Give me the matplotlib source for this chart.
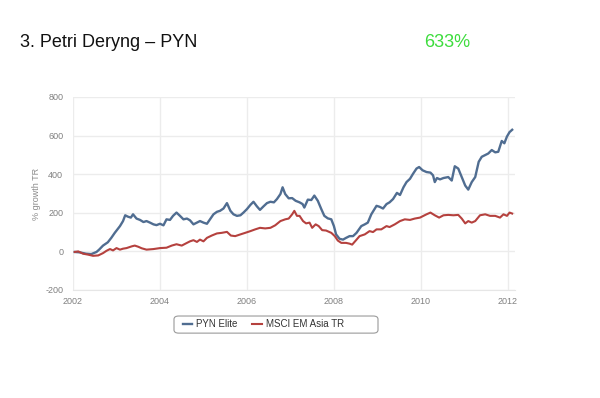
import matplotlib
matplotlib.use("Agg")
import matplotlib.pyplot as plt
from matplotlib.patches import FancyBboxPatch

# -----------------------------------------
# Data
# -----------------------------------------

pyn_years = [
    2002.04, 2002.15, 2002.30, 2002.42, 2002.54, 2002.60, 2002.69, 2002.80,
    2002.88, 2002.96, 2003.08, 2003.15, 2003.20, 2003.26, 2003.33, 2003.38,
    2003.46, 2003.54, 2003.62, 2003.69, 2003.77, 2003.85, 2003.92, 2004.00,
    2004.08, 2004.15, 2004.23, 2004.30, 2004.38, 2004.46, 2004.54, 2004.62,
    2004.69, 2004.77, 2004.85, 2004.92, 2005.00, 2005.08, 2005.15, 2005.23,
    2005.31, 2005.38, 2005.46, 2005.54, 2005.62, 2005.69, 2005.77, 2005.85,
    2005.92, 2006.00, 2006.08, 2006.15, 2006.23, 2006.30, 2006.38, 2006.46,
    2006.54, 2006.62, 2006.69, 2006.77, 2006.82, 2006.88, 2006.96, 2007.04,
    2007.12, 2007.21, 2007.28, 2007.32, 2007.40, 2007.48, 2007.55, 2007.63,
    2007.71, 2007.78, 2007.86, 2007.94, 2008.00, 2008.05, 2008.13, 2008.21,
    2008.28, 2008.36, 2008.44, 2008.52, 2008.63, 2008.71, 2008.78, 2008.86,
    2008.98, 2009.05, 2009.13, 2009.21, 2009.28, 2009.36, 2009.45, 2009.52,
    2009.60, 2009.67, 2009.75, 2009.82, 2009.90, 2009.96, 2010.04, 2010.13,
    2010.22, 2010.28, 2010.32, 2010.37, 2010.44, 2010.52, 2010.63, 2010.71,
    2010.78, 2010.86, 2010.94, 2011.02, 2011.09, 2011.17, 2011.25, 2011.33,
    2011.40, 2011.48, 2011.55, 2011.63, 2011.71, 2011.78, 2011.86, 2011.92,
    2011.98, 2012.04, 2012.10
]

pyn_vals = [
    -3, -5, -12, -14, -3, 9, 30, 47,
    70, 96, 131, 157, 187, 180, 175, 192,
    170, 163, 152, 157, 149, 140, 136, 143,
    135, 166, 163, 184, 201, 184, 166, 170,
    161, 140, 149, 157, 149, 143, 166, 192,
    205, 210, 222, 250, 210, 192, 184, 187,
    201, 219, 241, 257, 233, 215, 233, 250,
    257, 254, 271, 297, 332, 297, 275, 276,
    262, 254, 245, 227, 268, 266, 289, 262,
    219, 184, 171, 166, 131, 88, 65, 61,
    70, 79, 79, 96, 131, 140, 149, 192,
    236, 231, 222, 245, 254, 271, 303, 292,
    332, 359, 376, 402, 429, 437, 420, 411,
    408, 394, 359, 380, 373, 380, 385, 367,
    441, 429, 385, 341, 320, 359, 385, 464,
    490, 499, 507, 525, 513, 516, 572, 560,
    595, 618, 630
]

msci_years = [
    2002.04, 2002.12, 2002.23, 2002.35, 2002.46, 2002.58, 2002.69, 2002.77,
    2002.85, 2002.92, 2003.00, 2003.08, 2003.15, 2003.23, 2003.35, 2003.42,
    2003.50, 2003.58, 2003.69, 2003.85, 2004.00, 2004.15, 2004.27, 2004.38,
    2004.50, 2004.62, 2004.69, 2004.77, 2004.85, 2004.92, 2005.00, 2005.08,
    2005.19, 2005.31, 2005.42, 2005.54, 2005.63, 2005.73, 2005.85, 2005.96,
    2006.08, 2006.19, 2006.30, 2006.42, 2006.54, 2006.65, 2006.77, 2006.88,
    2006.96, 2007.04, 2007.09, 2007.15, 2007.21, 2007.29, 2007.36, 2007.44,
    2007.50, 2007.58, 2007.65, 2007.73, 2007.82, 2007.94, 2008.02, 2008.09,
    2008.17, 2008.28, 2008.36, 2008.42, 2008.51, 2008.59, 2008.71, 2008.82,
    2008.90, 2008.98, 2009.09, 2009.21, 2009.28, 2009.40, 2009.52, 2009.63,
    2009.75, 2009.86, 2009.98, 2010.13, 2010.22, 2010.32, 2010.42, 2010.52,
    2010.63, 2010.75, 2010.86, 2010.94, 2011.02, 2011.09, 2011.17, 2011.25,
    2011.36, 2011.48, 2011.59, 2011.71, 2011.82, 2011.90, 2011.98, 2012.04,
    2012.10
]

msci_vals = [
    -3, 0, -12, -17, -23, -21, -9, 3,
    12, 5, 17, 9, 14, 17, 26, 30,
    24, 16, 9, 12, 17, 19, 30, 37,
    30, 44, 52, 58, 49, 61, 52, 70,
    82, 93, 96, 101, 82, 79, 88, 96,
    105, 114, 122, 119, 122, 135, 157, 166,
    170, 192, 210, 184, 184, 157, 145, 149,
    122, 140, 131, 110, 108, 96, 79, 56,
    44, 44, 40, 35, 58, 79, 88, 105,
    100, 114, 114, 131, 126, 140, 157, 166,
    163, 170, 175, 192, 201, 187, 175, 187,
    189, 187, 189, 170, 145, 157, 149, 157,
    187, 192, 184, 184, 175, 192, 184, 201,
    196
]

x_ticks = [2002, 2004, 2006, 2008, 2010, 2012]
y_ticks = [-200, 0, 200, 400, 600, 800]
y_labels = ["-200", "0", "200", "400", "600", "800"]

# -----------------------------------------
# Figure
# -----------------------------------------

plt.rcParams["font.family"] = ["Liberation Sans", "DejaVu Sans"]

fig = plt.figure(figsize=(6, 3.98), dpi=100)

fig.text(0.033, 0.883, "3. Petri Deryng \u2013 PYN", fontsize=13,
         color="#111111", va="baseline")

fig.text(0.707, 0.883, "633%", fontsize=13, color="#3ddc3d",
         va="baseline")

ax = fig.add_axes([0.1217, 0.2714, 0.737, 0.485])

ax.plot(pyn_years, pyn_vals, color="#506d91", linewidth=1.7,
        label="PYN Elite")

ax.plot(msci_years, msci_vals, color="#b5413e", linewidth=1.5,
        label="MSCI EM Asia TR")

ax.set_xlim(2002, 2012.17)
ax.set_ylim(-200, 800)

ax.set_xticks(x_ticks)
ax.set_yticks(y_ticks)
ax.set_yticklabels(y_labels)

ax.tick_params(axis="both", length=0, labelsize=6.5, labelcolor="#808080")
ax.tick_params(axis="y", pad=7)
ax.tick_params(axis="x", pad=5)

ax.grid(True, color="#ececec", linewidth=1)
ax.set_axisbelow(True)

for side in ["top", "right", "left"]:
    ax.spines[side].set_visible(False)
ax.spines["bottom"].set_color("#e6e6e6")

ax.set_ylabel("% growth TR", fontsize=6.5, color="#8a8a8a", labelpad=3)

# legend box (wider than its content, as in the reference)
box = FancyBboxPatch((0.290, 0.163), 0.340, 0.043,
                     boxstyle="round,pad=0,rounding_size=0.008",
                     transform=fig.transFigure, facecolor="white",
                     edgecolor="#9a9a9a", linewidth=0.8)
fig.patches.append(box)

leg = fig.legend(loc="center left", bbox_to_anchor=(0.290, 0.185), ncol=2,
                 fontsize=7, frameon=False, handlelength=1.0,
                 handletextpad=0.4, columnspacing=1.5)
for t in leg.get_texts():
    t.set_color("#333333")

fig.savefig("out.png", dpi=100)
